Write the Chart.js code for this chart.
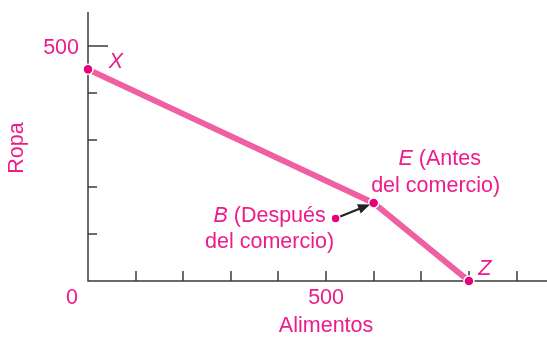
<!DOCTYPE html>
<html>
<head>
<meta charset="utf-8">
<script src="https://cdn.jsdelivr.net/npm/chart.js@4"></script>
<style>
  body { margin: 0; background: #fff; }
  #wrap { width: 547px; height: 337px; position: relative; }
</style>
</head>
<body>
<div id="wrap"><canvas id="ppfChart"></canvas></div>
<script>
// Production possibilities frontier: food (x) vs clothing (y)
const pointNames = ['X', 'E', 'Z'];
const foodValues = [0, 600, 800];
const clothValues = [450, 166, 0];
const tradeName = 'B';
const tradePoint = [520, 133];
const xTicks = [100, 200, 300, 400, 500, 600, 700, 800, 900];
const yTicks = [100, 200, 300, 400, 500];
const xTickLabels = ['500'];
const yTickLabels = ['500'];
const originLabel = '0';
const xTitle = 'Alimentos';
const yTitle = 'Ropa';

const TEXT = '#EC1C8C';
const DOT = '#E5007D';
const LINE = '#EF5FA2';
const AXIS = '#3a3a3a';
const FONT = 'Liberation Sans, Arial, sans-serif';
const SIZE = '21.5px ';

function drawLabel(ctx, x, y, italic, rest) {
    // italic letter followed by normal text, centered at x
    ctx.font = 'italic ' + SIZE + FONT;
    const w1 = ctx.measureText(italic).width;
    ctx.font = SIZE + FONT;
    const w2 = rest ? ctx.measureText(rest).width : 0;
    let start = x - (w1 + w2) / 2;
    ctx.textAlign = 'left';
    ctx.font = 'italic ' + SIZE + FONT;
    ctx.fillText(italic, start, y);
    if (rest) {
        ctx.font = SIZE + FONT;
        ctx.fillText(rest, start + w1, y);
    }
}

const axesPlugin = {
    id: 'axesPlugin',
    beforeDatasetsDraw(chart) {
        const { ctx, chartArea: a, scales: { x, y } } = chart;
        ctx.save();
        ctx.strokeStyle = AXIS;
        ctx.lineWidth = 1.5;
        ctx.beginPath();
        ctx.moveTo(a.left, a.top);
        ctx.lineTo(a.left, a.bottom);
        ctx.lineTo(a.right, a.bottom);
        ctx.stroke();
        // inward ticks
        xTicks.forEach(v => {
            const px = Math.round(x.getPixelForValue(v));
            ctx.beginPath();
            ctx.moveTo(px, a.bottom);
            ctx.lineTo(px, a.bottom - 10);
            ctx.stroke();
        });
        yTicks.forEach(v => {
            const py = Math.round(y.getPixelForValue(v));
            const len = yTickLabels.includes(String(v)) ? 20 : 9;
            ctx.beginPath();
            ctx.moveTo(a.left, py);
            ctx.lineTo(a.left + len, py);
            ctx.stroke();
        });
        ctx.restore();
    },
    afterDatasetsDraw(chart) {
        const { ctx, chartArea: a, scales: { x, y } } = chart;
        ctx.save();
        ctx.fillStyle = TEXT;
        ctx.textBaseline = 'middle';
        ctx.font = SIZE + FONT;

        // tick labels
        ctx.textAlign = 'right';
        yTickLabels.forEach(t => ctx.fillText(t, a.left - 9, y.getPixelForValue(+t) + 2));
        ctx.textAlign = 'center';
        xTickLabels.forEach(t => ctx.fillText(t, x.getPixelForValue(+t), a.bottom + 17));
        ctx.fillText(originLabel, a.left - 16, a.bottom + 17);

        // axis titles
        ctx.fillText(xTitle, x.getPixelForValue(500), a.bottom + 45);
        ctx.save();
        ctx.translate(17, 148);
        ctx.rotate(-Math.PI / 2);
        ctx.fillText(yTitle, 0, 0);
        ctx.restore();

        // point labels
        const px = i => x.getPixelForValue(foodValues[i]);
        const py = i => y.getPixelForValue(clothValues[i]);
        drawLabel(ctx, px(0) + 28, py(0) - 7, pointNames[0], '');
        drawLabel(ctx, px(2) + 16, py(2) - 12, pointNames[2], '');
        drawLabel(ctx, px(1) + 66, py(1) - 44, pointNames[1], ' (Antes');
        ctx.textAlign = 'center';
        ctx.font = SIZE + FONT;
        ctx.fillText('del comercio)', px(1) + 62, py(1) - 17);

        const bx = x.getPixelForValue(tradePoint[0]);
        const by = y.getPixelForValue(tradePoint[1]);
        drawLabel(ctx, bx - 66, by - 2, tradeName, ' (Después');
        ctx.textAlign = 'center';
        ctx.font = SIZE + FONT;
        ctx.fillText('del comercio)', bx - 66, by + 24);

        // arrow from B to E
        const ex = px(1), ey = py(1);
        const dx = ex - bx, dy = ey - by;
        const d = Math.hypot(dx, dy);
        const ux = dx / d, uy = dy / d;
        const sx = bx + ux * 5, sy = by + uy * 5;
        const tx = ex - ux * 4, ty = ey - uy * 4;
        ctx.strokeStyle = '#222';
        ctx.fillStyle = '#222';
        ctx.lineWidth = 2.2;
        ctx.beginPath();
        ctx.moveTo(sx, sy);
        ctx.lineTo(tx - ux * 6, ty - uy * 6);
        ctx.stroke();
        ctx.beginPath();
        ctx.moveTo(tx, ty);
        ctx.lineTo(tx - ux * 12 - uy * 5, ty - uy * 12 + ux * 5);
        ctx.lineTo(tx - ux * 12 + uy * 5, ty - uy * 12 - ux * 5);
        ctx.closePath();
        ctx.fill();
        ctx.restore();
    }
};

new Chart(document.getElementById('ppfChart').getContext('2d'), {
    type: 'scatter',
    data: {
        datasets: [{
            data: foodValues.map((v, i) => ({ x: v, y: clothValues[i] })),
            showLine: true,
            clip: false,
            borderColor: LINE,
            borderWidth: 6,
            pointRadius: 5,
            pointBackgroundColor: DOT,
            pointBorderColor: '#fff',
            pointBorderWidth: 1.5
        }, {
            data: [{ x: tradePoint[0], y: tradePoint[1] }],
            clip: false,
            pointRadius: 4.5,
            pointBackgroundColor: DOT,
            pointBorderColor: '#fff',
            pointBorderWidth: 1.5
        }]
    },
    options: {
        responsive: true,
        maintainAspectRatio: false,
        animation: false,
        layout: { autoPadding: false, padding: { left: 88, right: 0, top: 12, bottom: 56 } },
        plugins: { legend: { display: false }, tooltip: { enabled: false } },
        scales: {
            x: { type: 'linear', display: false, min: 0, max: 964 },
            y: { type: 'linear', display: false, min: 0, max: 572 }
        }
    },
    plugins: [axesPlugin]
});
</script>
</body>
</html>
